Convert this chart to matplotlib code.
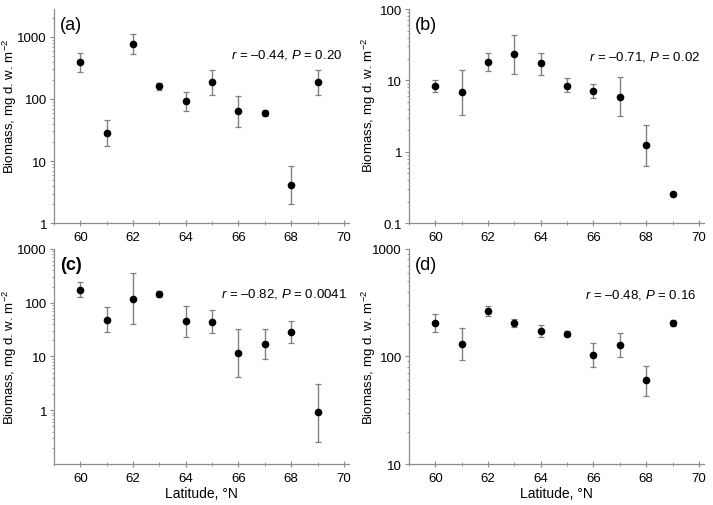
import numpy as np
import matplotlib
matplotlib.use("Agg")
import matplotlib.pyplot as plt
from matplotlib.ticker import LogLocator, NullFormatter, FixedLocator, FixedFormatter, MultipleLocator

plt.rcParams['font.family'] = ['Liberation Sans', 'DejaVu Sans']
plt.rcParams['mathtext.fontset'] = 'custom'
plt.rcParams['mathtext.rm'] = 'Liberation Sans'
plt.rcParams['mathtext.it'] = 'Liberation Sans:italic'

latitude = [60, 61, 62, 63, 64, 65, 66, 67, 68, 69]

# panel (a)
a_mean = [387, 28.5, 763, 159, 92, 186, 63, 59, 4.1, 186]
a_high = [546, 46, 1093, 184, 130, 294, 112, 66, 8.3, 288]
a_low = [277, 17.8, 532, 139, 64, 118, 35, 54, 2.07, 118]

# panel (b)
b_mean = [8.5, 6.9, 18, 23.4, 17.3, 8.5, 7.2, 5.9, 1.24, 0.255]
b_high = [10.2, 14, 24.4, 43.6, 24.4, 10.9, 8.9, 11.1, 2.37, 0.255]
b_low = [6.9, 3.3, 13.4, 12.5, 12, 6.8, 5.7, 3.16, 0.64, 0.255]

# panel (c)
c_mean = [175, 47.5, 119, 145, 45.5, 44, 11.8, 17.2, 28, 0.92]
c_high = [239, 82, 357, 167, 88, 72, 33, 33, 45, 3.1]
c_low = [128, 28, 39.5, 126, 23, 27.6, 4.1, 9, 17.5, 0.26]

# panel (d)
d_mean = [206, 132, 267, 206, 171, 163, 103, 127, 60, 206]
d_high = [247, 185, 297, 225, 195, 173, 134, 164, 82, 220]
d_low = [169, 92, 238, 190, 151, 154, 80, 98, 43, 194]

panels = [
    ("(a)", a_mean, a_high, a_low, (1, 2800), [1, 10, 100, 1000], "\u20130.44", "0.20", "normal"),
    ("(b)", b_mean, b_high, b_low, (0.1, 100), [0.1, 1, 10, 100], "\u20130.71", "0.02", "normal"),
    ("(c)", c_mean, c_high, c_low, (0.1, 1000), [1, 10, 100, 1000], "\u20130.82", "0.0041", "bold"),
    ("(d)", d_mean, d_high, d_low, (10, 1000), [10, 100, 1000], "\u20130.48", "0.16", "normal"),
]

# axes boxes in figure fractions: left, bottom, width, height
boxes = [
    (0.0757, 0.557, 0.414, 0.423),
    (0.5736, 0.557, 0.414, 0.423),
    (0.0757, 0.081, 0.414, 0.425),
    (0.5736, 0.081, 0.414, 0.425),
]
note_pos = [(0.976, 0.79), (0.986, 0.78), (0.993, 0.795), (0.973, 0.79)]
label_pos = [(-0.118, 0.55), (-0.105, 0.555), (-0.118, 0.5), (-0.105, 0.5)]

spine_col = "#8c8c8c"
err_col = "#808080"

fig = plt.figure(figsize=(7.13, 5.06), dpi=100)

for i, (tag, mean, high, low, ylim, yt, r, p, weight) in enumerate(panels):
    ax = fig.add_axes(boxes[i])
    mean = np.array(mean)
    yerr = [mean - np.array(low), np.array(high) - mean]
    ax.errorbar(latitude, mean, yerr=yerr, fmt="o", color="black", ms=4.5,
                ecolor=err_col, elinewidth=1.0, capsize=2.2, capthick=0.9, zorder=3)
    ax.set_yscale("log")
    ax.set_ylim(*ylim)
    ax.set_xlim(59, 70.2)
    ax.yaxis.set_major_locator(FixedLocator(yt))
    ax.yaxis.set_major_formatter(FixedFormatter([f"{v:g}" for v in yt]))
    ax.yaxis.set_minor_locator(LogLocator(base=10, subs=np.arange(2, 10)))
    ax.yaxis.set_minor_formatter(NullFormatter())
    ax.xaxis.set_major_locator(MultipleLocator(2))
    ax.xaxis.set_minor_locator(MultipleLocator(1))

    for s in ["top", "right"]:
        ax.spines[s].set_visible(False)
    for s in ["left", "bottom"]:
        ax.spines[s].set_color(spine_col)
        ax.spines[s].set_linewidth(0.9)
    ax.tick_params(axis="y", which="major", direction="out", length=3, color=spine_col, labelsize=9.5, pad=2)
    ax.tick_params(axis="y", which="minor", direction="out", length=1.5, color=spine_col)
    ax.tick_params(axis="x", which="major", direction="inout", length=4, color=spine_col, labelsize=9.5, pad=4)
    ax.tick_params(axis="x", which="minor", direction="inout", length=3, color=spine_col)

    ax.set_ylabel("Biomass, mg d. w. m$^{-2}$", fontsize=9.5)
    ax.yaxis.set_label_coords(*label_pos[i])
    if i >= 2:
        ax.set_xlabel("Latitude, \u00b0N", fontsize=10, labelpad=1)

    ax.text(0.02, 0.93, tag, transform=ax.transAxes, fontsize=13, fontweight=weight, va="center")
    ax.text(note_pos[i][0], note_pos[i][1], f"$\\mathit{{r}}$ = {r}, $\\mathit{{P}}$ = {p}",
            transform=ax.transAxes, fontsize=9.5, ha="right", va="center")

fig.savefig("out.png", dpi=100)
